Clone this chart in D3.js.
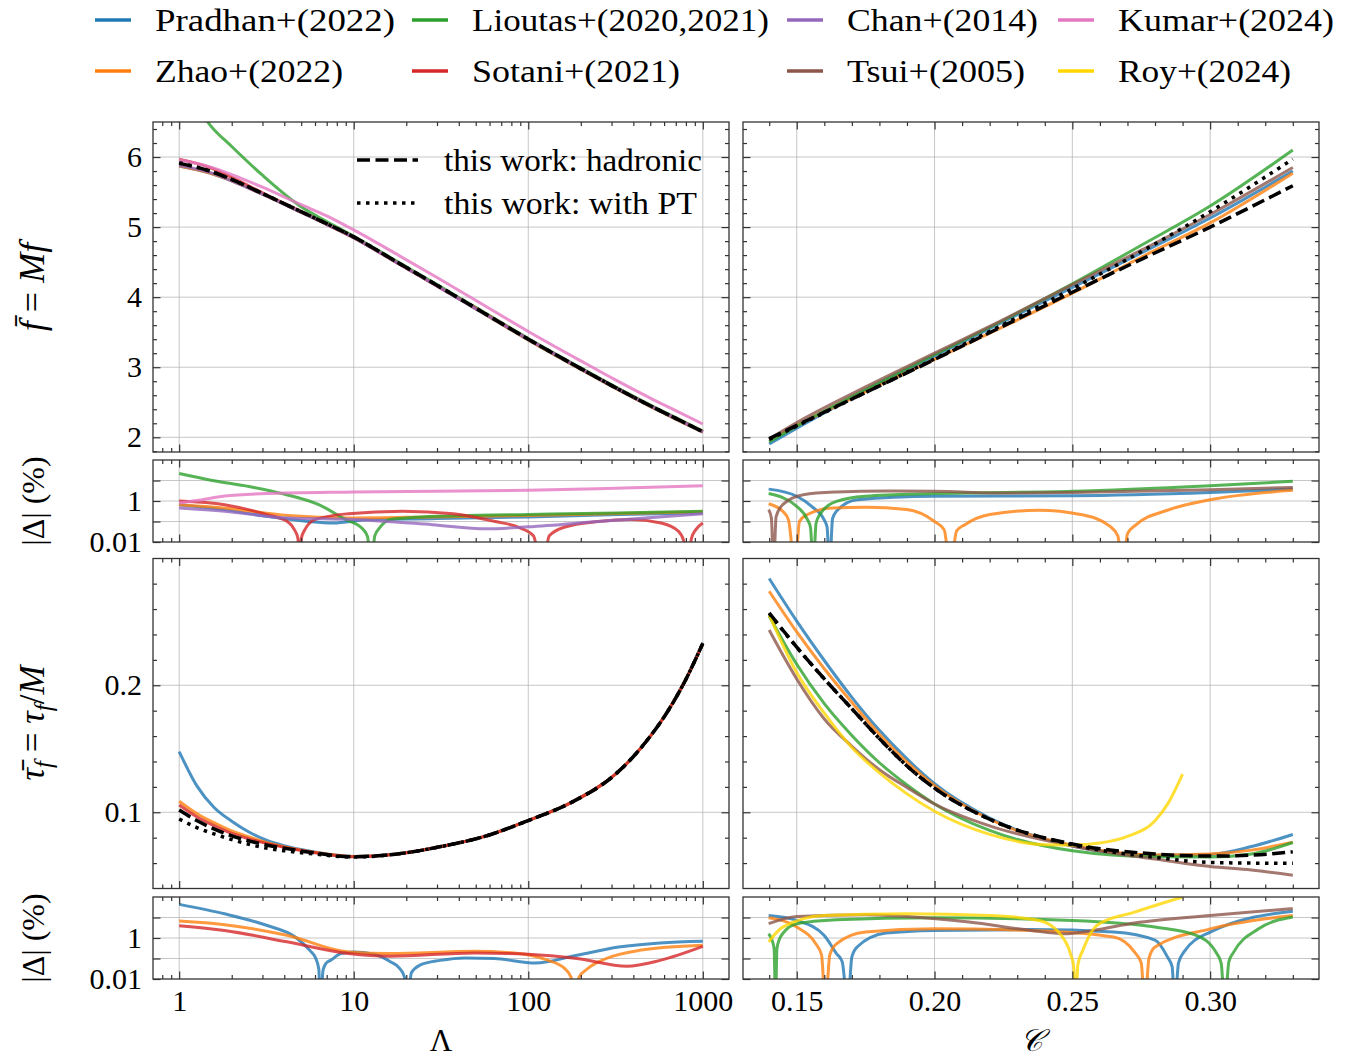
<!DOCTYPE html>
<html>
<head>
<meta charset="utf-8">
<script src="https://cdn.jsdelivr.net/npm/d3@7"></script>
<style>
  body { margin: 0; background: #fff; }
  svg text { font-family: "Liberation Serif", "DejaVu Serif", serif; fill: #000; }
</style>
</head>
<body>
<svg id="fig" width="1349" height="1059"></svg>
<script>
// ---- legend / series
const seriesNames = ["Pradhan+(2022)", "Zhao+(2022)", "Lioutas+(2020,2021)", "Sotani+(2021)",
                     "Chan+(2014)", "Tsui+(2005)", "Kumar+(2024)", "Roy+(2024)"];
const seriesColors = ["#1f77b4", "#ff7f0e", "#2ca02c", "#d62728", "#9467bd", "#8c564b", "#e377c2", "#ffd700"];
const workNames = ["this work: hadronic", "this work: with PT"];

// ---- ticks
const lamTicks = [1, 10, 100, 1000];
const lamTickLabels = ["1", "10", "100", "1000"];
const cTicks = [0.15, 0.20, 0.25, 0.30];
const cTickLabels = ["0.15", "0.20", "0.25", "0.30"];
const fTicks = [2, 3, 4, 5, 6];
const fTickLabels = ["2", "3", "4", "5", "6"];
const tTicks = [0.1, 0.2];
const tTickLabels = ["0.1", "0.2"];
const dTicks = [0.01, 1];
const dTickLabels = ["0.01", "1"];

// ---- f vs Lambda
const fLamGrid = [1, 1.5, 2, 3, 5, 7, 10, 18, 30, 48, 100, 200, 310, 500, 700, 1000];
const fLamHadronic = [5.91, 5.80, 5.68, 5.48, 5.22, 5.05, 4.86, 4.49, 4.17, 3.87, 3.40, 2.98, 2.72, 2.45, 2.27, 2.08];
const fLamPT       = [5.92, 5.80, 5.68, 5.48, 5.22, 5.05, 4.86, 4.49, 4.17, 3.87, 3.40, 2.98, 2.72, 2.45, 2.27, 2.08];
const fLamPradhan  = [5.87, 5.77, 5.66, 5.47, 5.21, 5.04, 4.85, 4.48, 4.16, 3.86, 3.39, 2.97, 2.71, 2.44, 2.26, 2.075];
const fLamZhao     = [5.87, 5.77, 5.66, 5.47, 5.21, 5.04, 4.85, 4.48, 4.16, 3.86, 3.39, 2.97, 2.71, 2.44, 2.26, 2.075];
const fLamLioutas  = [7.20, 6.46, 6.15, 5.74, 5.29, 5.08, 4.87, 4.50, 4.18, 3.88, 3.41, 2.99, 2.73, 2.46, 2.28, 2.09];
const fLamSotani   = [5.97, 5.85, 5.71, 5.49, 5.22, 5.04, 4.85, 4.48, 4.16, 3.87, 3.40, 2.98, 2.72, 2.45, 2.27, 2.08];
const fLamChan     = [5.88, 5.78, 5.66, 5.47, 5.21, 5.04, 4.85, 4.48, 4.16, 3.86, 3.40, 2.98, 2.72, 2.45, 2.27, 2.075];
const fLamKumar    = [5.96, 5.86, 5.75, 5.57, 5.32, 5.16, 4.96, 4.60, 4.28, 3.98, 3.51, 3.09, 2.83, 2.56, 2.38, 2.19];

// |Delta| (%) for f vs Lambda: [Lambda, percent]
const dfLamPradhan = [[1,0.66],[1.8,0.38],[3.16,0.18],[5.5,0.1],[7.6,0.085],[12.3,0.126],[28,0.138],[100,0.166],[330,0.22],[1000,0.26]];
const dfLamZhao = [[1,0.66],[1.8,0.46],[4.2,0.195],[9.3,0.148],[28,0.166],[100,0.195],[1000,0.295]];
const dfLamLioutas = [[1,22],[1.58,9.8],[2.51,5.1],[3.98,2.2],[6.31,0.66],[8.91,0.13],[11.2,0.045],[12.0,0.018],[12.6,0.0005],[13.2,0.02],[14.1,0.05],[16.2,0.125],[22.4,0.16],[40,0.19],[100,0.22],[316,0.26],[1000,0.32]];
const dfLamSotani = [[1,1.0],[1.82,0.66],[3.16,0.22],[4.17,0.1],[4.57,0.04],[4.79,0.015],[4.9,0.0005],[5.01,0.015],[5.25,0.04],[6.03,0.126],[9.33,0.24],[19.1,0.32],[37.2,0.24],[64.6,0.1],[89,0.05],[107,0.02],[120,0.0005],[132,0.02],[162,0.054],[251,0.1],[389,0.126],[575,0.085],[724,0.034],[776,0.012],[813,0.0005],[861,0.015],[912,0.04],[1000,0.085]];
const dfLamChan = [[1,0.46],[1.82,0.32],[4.17,0.148],[10,0.126],[28.2,0.07],[57.5,0.044],[100,0.055],[251,0.1],[1000,0.24]];
const dfLamKumar = [[1,0.79],[1.26,1.05],[1.82,1.75],[3.16,2.3],[10,2.75],[100,3.3],[316,4.2],[1000,5.5]];

// ---- tau vs Lambda
const tLamGrid = [1, 1.26, 1.58, 2, 2.51, 3.16, 3.98, 5.62, 10, 17.8, 31.6, 56.2, 100, 178, 316, 398, 501, 631, 794, 1000];
const tLamHadronic = [0.1018, 0.0935, 0.087, 0.0815, 0.0775, 0.0743, 0.0718, 0.0685, 0.065, 0.0672, 0.073, 0.081, 0.0935, 0.108, 0.130, 0.1435, 0.160, 0.1797, 0.2038, 0.233];
const tLamPT       = [0.0947, 0.088, 0.083, 0.0785, 0.0748, 0.0718, 0.0698, 0.0675, 0.0648, 0.0672, 0.073, 0.081, 0.0935, 0.108, 0.130, 0.1435, 0.160, 0.1797, 0.2038, 0.233];
const tLamPradhan  = [0.1478, 0.121, 0.104, 0.093, 0.0845, 0.078, 0.0737, 0.0693, 0.0652, 0.0672, 0.073, 0.081, 0.0935, 0.108, 0.130, 0.1435, 0.160, 0.1797, 0.2038, 0.2335];
const tLamZhao     = [0.1087, 0.099, 0.0918, 0.0853, 0.0806, 0.0762, 0.0728, 0.069, 0.0652, 0.0672, 0.073, 0.081, 0.0935, 0.108, 0.130, 0.1435, 0.160, 0.1797, 0.2038, 0.233];
const tLamSotani   = [0.1058, 0.0965, 0.0895, 0.0834, 0.0791, 0.0755, 0.0725, 0.0688, 0.065, 0.0672, 0.073, 0.081, 0.0935, 0.108, 0.130, 0.1435, 0.160, 0.1797, 0.2038, 0.233];

const dtLamPradhan = [[1,43.6],[1.82,15.1],[3.16,4.17],[4.62,1.12],[5.6,0.25],[6.03,0.11],[6.31,0.03],[6.43,0.0005],[6.68,0.029],[7.0,0.063],[7.36,0.081],[8.43,0.174],[10,0.209],[13.1,0.162],[16.3,0.068],[18.2,0.035],[19.5,0.013],[20.2,0.0005],[21.4,0.02],[23.9,0.047],[31.3,0.081],[43.6,0.107],[63.8,0.1],[110,0.06],[190,0.145],[330,0.363],[569,0.575],[1000,0.69]];
const dtLamZhao = [[1,6.76],[1.82,4.47],[4.14,1.35],[9.33,0.209],[16.2,0.174],[49,0.224],[83,0.186],[130,0.081],[162,0.032],[176,0.012],[185,0.0005],[195,0.012],[219,0.032],[280,0.1],[434,0.25],[1000,0.44]];
const dtLamSotani = [[1,3.98],[1.82,2.34],[4.14,0.65],[9.33,0.174],[16.2,0.129],[49,0.186],[100,0.162],[190,0.1],[367,0.042],[569,0.081],[1000,0.39]];

// ---- f vs compactness
const fCGrid = [0.14, 0.15, 0.175, 0.20, 0.225, 0.25, 0.275, 0.30, 0.33];
const fCHadronic = [1.98, 2.17, 2.64, 3.11, 3.59, 4.07, 4.54, 5.00, 5.59];
const fCPT       = [1.97, 2.16, 2.64, 3.12, 3.61, 4.12, 4.65, 5.22, 5.97];
const fCPradhan  = [1.905, 2.13, 2.67, 3.16, 3.65, 4.14, 4.63, 5.13, 5.80];
const fCZhao     = [1.965, 2.17, 2.653, 3.113, 3.578, 4.057, 4.57, 5.06, 5.77];
const fCLioutas  = [1.935, 2.16, 2.685, 3.18, 3.67, 4.19, 4.74, 5.30, 6.10];
const fCTsui     = [1.975, 2.21, 2.72, 3.20, 3.68, 4.18, 4.67, 5.18, 5.85];

const dfCPradhan = [[0.1398,3.8],[0.15,1.7],[0.1554,0.55],[0.1599,0.123],[0.161,0.055],[0.1619,0.0005],[0.163,0.14],[0.1644,0.316],[0.172,1.15],[0.20,1.7],[0.25,1.82],[0.30,2.63],[0.33,3.8]];
const dfCZhao = [[0.1398,0.74],[0.1449,0.316],[0.147,0.12],[0.1494,0.0005],[0.151,0.1],[0.1539,0.22],[0.1629,0.46],[0.1749,0.49],[0.1899,0.38],[0.20,0.1],[0.2035,0.04],[0.2057,0.0005],[0.208,0.035],[0.211,0.07],[0.22,0.22],[0.238,0.355],[0.253,0.22],[0.2636,0.059],[0.2665,0.02],[0.2683,0.0005],[0.270,0.025],[0.2732,0.07],[0.2845,0.355],[0.30,1.15],[0.33,3.3]];
const dfCLioutas = [[0.1398,2.3],[0.15,0.55],[0.1539,0.123],[0.155,0.05],[0.156,0.0005],[0.157,0.08],[0.1584,0.22],[0.1644,0.95],[0.1749,1.7],[0.20,2.3],[0.25,2.95],[0.30,5.6],[0.33,9.1]];
const dfCTsui = [[0.1398,0.38],[0.1408,0.15],[0.1416,0.0005],[0.1425,0.17],[0.1449,0.66],[0.1524,2.04],[0.1644,2.75],[0.1824,3.1],[0.20,2.95],[0.2274,2.45],[0.25,2.6],[0.30,3.55],[0.33,4.6]];

// ---- tau vs compactness
const tCGrid = [0.14, 0.15, 0.16, 0.17, 0.18, 0.19, 0.20, 0.22, 0.25, 0.28, 0.30, 0.315, 0.33];
const tCHadronic = [0.257, 0.230, 0.205, 0.1815, 0.158, 0.1365, 0.119, 0.0945, 0.075, 0.0672, 0.0655, 0.0662, 0.069];
const tCPT       = [0.2565, 0.230, 0.205, 0.1815, 0.158, 0.1365, 0.119, 0.0945, 0.0745, 0.0645, 0.0605, 0.060, 0.0598];
const tCPradhan  = [0.284, 0.2505, 0.2195, 0.1905, 0.1645, 0.142, 0.1225, 0.0955, 0.0735, 0.0662, 0.0668, 0.073, 0.0825];
const tCZhao     = [0.274, 0.242, 0.213, 0.1865, 0.1615, 0.1395, 0.121, 0.0945, 0.074, 0.0664, 0.0672, 0.0702, 0.0765];
const tCLioutas  = [0.2545, 0.2165, 0.1855, 0.1605, 0.139, 0.1215, 0.1066, 0.0857, 0.0697, 0.065, 0.0648, 0.0672, 0.0762];
const tCTsui     = [0.2435, 0.205, 0.1735, 0.152, 0.1335, 0.1195, 0.1065, 0.0893, 0.0735, 0.0632, 0.0573, 0.0545, 0.0505];
const tCRoyGrid  = [0.14, 0.15, 0.16, 0.17, 0.18, 0.19, 0.20, 0.22, 0.24, 0.25, 0.26, 0.27, 0.28, 0.285, 0.29];
const tCRoy      = [0.2555, 0.210, 0.178, 0.151, 0.131, 0.1145, 0.1008, 0.0826, 0.0745, 0.0742, 0.0758, 0.081, 0.0934, 0.108, 0.130];

const dtCPradhan = [[0.1398,12.6],[0.15,7.2],[0.1599,1.35],[0.1644,0.174],[0.1665,0.07],[0.1685,0.0005],[0.170,0.12],[0.1719,0.363],[0.1824,1.74],[0.20,2.34],[0.235,2.57],[0.265,1.95],[0.28,0.78],[0.2845,0.12],[0.2862,0.04],[0.2872,0.0005],[0.2885,0.06],[0.2905,0.21],[0.30,1.95],[0.33,20.4]];
const dtCZhao = [[0.1398,9.8],[0.15,3.4],[0.1569,0.52],[0.159,0.15],[0.1604,0.0005],[0.162,0.15],[0.1644,0.52],[0.1749,1.95],[0.20,2.8],[0.235,2.34],[0.265,1.12],[0.2725,0.21],[0.275,0.06],[0.2763,0.0005],[0.2778,0.1],[0.28,0.363],[0.30,2.8],[0.33,12.6]];
const dtCLioutas = [[0.1398,1.62],[0.141,0.8],[0.1418,0.3],[0.1423,0.0005],[0.1428,0.3],[0.1436,0.8],[0.1449,1.62],[0.15,5.0],[0.1644,7.8],[0.20,9.8],[0.25,7.2],[0.28,3.4],[0.295,1.35],[0.3024,0.174],[0.304,0.06],[0.3053,0.0005],[0.3068,0.07],[0.3086,0.21],[0.3176,2.8],[0.33,10.5]];
const dtCTsui = [[0.1398,5],[0.15,11.2],[0.1749,13.5],[0.19,11.2],[0.2125,6],[0.235,2.34],[0.247,1.62],[0.2575,2.34],[0.2725,5.4],[0.30,12.6],[0.33,27]];
const dtCRoy = [[0.1398,0.65],[0.1449,3.4],[0.1599,12.6],[0.19,15.1],[0.22,12.6],[0.238,7.2],[0.2455,1.62],[0.2493,0.174],[0.2505,0.04],[0.2512,0.0005],[0.252,0.05],[0.2538,0.25],[0.259,4.2],[0.2725,18.2],[0.29,100]];

// ---------------------------------------------------------------
const svg = d3.select("#fig");
const FONT = '"Liberation Serif", "DejaVu Serif", serif';

const leftX = 153, rightX = 743, panelW = 576;
const rows = [
  { top: 122, h: 330 },
  { top: 460, h: 82 },
  { top: 558.5, h: 330 },
  { top: 897, h: 82 }
];
// rendered widths of legend labels (Computer Modern is wider than Times)
const legendTextWidth = [240, 188, 297, 208, 191, 178, 216, 173];
const workTextWidth = [258, 253];

const xLam = d3.scaleLog().domain([Math.pow(10, -0.15), Math.pow(10, 3.15)]).range([leftX, leftX + panelW]);
const xC = d3.scaleLinear().domain([0.1305, 0.3395]).range([rightX, rightX + panelW]);
const yF = d3.scaleLinear().domain([1.79, 6.5]).range([rows[0].top + rows[0].h, rows[0].top]);
const yDf = d3.scaleLog().domain([0.01, 100]).range([rows[1].top + rows[1].h, rows[1].top]);
const yT = d3.scaleLinear().domain([0.04, 0.2998]).range([rows[2].top + rows[2].h, rows[2].top]);
const yDt = d3.scaleLog().domain([0.01, 100]).range([rows[3].top + rows[3].h, rows[3].top]);

const lamMinor = [];
[0.1, 1, 10, 100].forEach(d => { for (let k = 2; k <= 9; k++) { const v = d * k; if (v > xLam.domain()[0] && v < xLam.domain()[1]) lamMinor.push(v); } });
const cMinor = d3.range(14, 34).filter(v => v % 5 !== 0).map(v => v / 100);
const fMinor = d3.range(9, 33).filter(v => v % 5 !== 0).map(v => v / 5);
const tMinor = [0.06, 0.08, 0.12, 0.14, 0.16, 0.18, 0.22, 0.24, 0.26, 0.28];
const dMinor = [0.1, 10];

const zip = (grid, vals) => grid.map((g, i) => [g, vals[i]]);
const col = name => seriesColors[seriesNames.indexOf(name)];
const S = (name, pts) => ({ pts, color: col(name), width: 3, opacity: 0.8 });
const hadronic = pts => ({ pts, color: "#000", width: 3.5, dash: "13,5.5", opacity: 1 });
const withPT = pts => ({ pts, color: "#000", width: 3.5, dash: "3.5,5.5", opacity: 1 });

const panels = [
  { x: xLam, y: yF, row: 0, xMaj: lamTicks, xMin: lamMinor, yMaj: fTicks, yMin: fMinor, yLab: fTickLabels,
    series: [S("Pradhan+(2022)", zip(fLamGrid, fLamPradhan)), S("Zhao+(2022)", zip(fLamGrid, fLamZhao)),
             S("Lioutas+(2020,2021)", zip(fLamGrid, fLamLioutas)), S("Sotani+(2021)", zip(fLamGrid, fLamSotani)),
             S("Chan+(2014)", zip(fLamGrid, fLamChan)), S("Kumar+(2024)", zip(fLamGrid, fLamKumar)),
             hadronic(zip(fLamGrid, fLamHadronic)), withPT(zip(fLamGrid, fLamPT))] },
  { x: xC, y: yF, row: 0, xMaj: cTicks, xMin: cMinor, yMaj: fTicks, yMin: fMinor,
    series: [S("Pradhan+(2022)", zip(fCGrid, fCPradhan)), S("Zhao+(2022)", zip(fCGrid, fCZhao)),
             S("Lioutas+(2020,2021)", zip(fCGrid, fCLioutas)), S("Tsui+(2005)", zip(fCGrid, fCTsui)),
             hadronic(zip(fCGrid, fCHadronic)), withPT(zip(fCGrid, fCPT))] },
  { x: xLam, y: yDf, row: 1, xMaj: lamTicks, xMin: lamMinor, yMaj: dTicks, yMin: dMinor, yLab: dTickLabels, logy: true,
    series: [S("Pradhan+(2022)", dfLamPradhan), S("Zhao+(2022)", dfLamZhao), S("Lioutas+(2020,2021)", dfLamLioutas),
             S("Sotani+(2021)", dfLamSotani), S("Chan+(2014)", dfLamChan), S("Kumar+(2024)", dfLamKumar)] },
  { x: xC, y: yDf, row: 1, xMaj: cTicks, xMin: cMinor, yMaj: dTicks, yMin: dMinor, logy: true,
    series: [S("Pradhan+(2022)", dfCPradhan), S("Zhao+(2022)", dfCZhao), S("Lioutas+(2020,2021)", dfCLioutas),
             S("Tsui+(2005)", dfCTsui)] },
  { x: xLam, y: yT, row: 2, xMaj: lamTicks, xMin: lamMinor, yMaj: tTicks, yMin: tMinor, yLab: tTickLabels,
    series: [S("Pradhan+(2022)", zip(tLamGrid, tLamPradhan)), S("Zhao+(2022)", zip(tLamGrid, tLamZhao)),
             S("Sotani+(2021)", zip(tLamGrid, tLamSotani)),
             hadronic(zip(tLamGrid, tLamHadronic)), withPT(zip(tLamGrid, tLamPT))] },
  { x: xC, y: yT, row: 2, xMaj: cTicks, xMin: cMinor, yMaj: tTicks, yMin: tMinor,
    series: [S("Pradhan+(2022)", zip(tCGrid, tCPradhan)), S("Zhao+(2022)", zip(tCGrid, tCZhao)),
             S("Lioutas+(2020,2021)", zip(tCGrid, tCLioutas)), S("Tsui+(2005)", zip(tCGrid, tCTsui)),
             S("Roy+(2024)", zip(tCRoyGrid, tCRoy)),
             hadronic(zip(tCGrid, tCHadronic)), withPT(zip(tCGrid, tCPT))] },
  { x: xLam, y: yDt, row: 3, xMaj: lamTicks, xMin: lamMinor, yMaj: dTicks, yMin: dMinor, yLab: dTickLabels, logy: true,
    xLab: lamTickLabels,
    series: [S("Pradhan+(2022)", dtLamPradhan), S("Zhao+(2022)", dtLamZhao), S("Sotani+(2021)", dtLamSotani)] },
  { x: xC, y: yDt, row: 3, xMaj: cTicks, xMin: cMinor, yMaj: dTicks, yMin: dMinor, logy: true, xLab: cTickLabels,
    series: [S("Pradhan+(2022)", dtCPradhan), S("Zhao+(2022)", dtCZhao), S("Lioutas+(2020,2021)", dtCLioutas),
             S("Tsui+(2005)", dtCTsui), S("Roy+(2024)", dtCRoy)] }
];

function styleAxis(a) {
  a.select(".domain").remove();
  a.attr("font-family", FONT).attr("font-size", 30);
  a.selectAll(".tick line").attr("stroke", "#333").attr("stroke-width", 1.2);
  a.selectAll(".tick text").attr("fill", "#000");
}

panels.forEach((p, pi) => {
  const [x0, x1] = p.x.range();
  const top = rows[p.row].top, h = rows[p.row].h, bot = top + h;
  const g = svg.append("g");

  // grid
  const gridY = p.logy ? [0.1, 1, 10] : p.yMaj;
  g.selectAll(".gx").data(p.xMaj).join("line")
    .attr("x1", d => p.x(d)).attr("x2", d => p.x(d)).attr("y1", top).attr("y2", bot)
    .attr("stroke", "#b0b0b0").attr("stroke-width", 1).attr("opacity", 0.7);
  g.selectAll(".gy").data(gridY).join("line")
    .attr("y1", d => p.y(d)).attr("y2", d => p.y(d)).attr("x1", x0).attr("x2", x1)
    .attr("stroke", "#b0b0b0").attr("stroke-width", 1).attr("opacity", 0.7);

  // clip
  const cid = "clip" + pi;
  svg.append("clipPath").attr("id", cid).append("rect")
    .attr("x", x0).attr("y", top).attr("width", x1 - x0).attr("height", h);

  const line = d3.line().x(d => p.x(d[0])).y(d => p.y(d[1])).curve(d3.curveMonotoneX);
  const lg = g.append("g").attr("clip-path", `url(#${cid})`);
  p.series.forEach(s => {
    lg.append("path").attr("d", line(s.pts)).attr("fill", "none")
      .attr("stroke", s.color).attr("stroke-width", s.width).attr("stroke-opacity", s.opacity)
      .attr("stroke-dasharray", s.dash || null).attr("stroke-linejoin", "round");
  });

  // ticks (inward, all sides)
  const bottomMaj = d3.axisBottom(p.x).tickValues(p.xMaj).tickSize(-7.5).tickPadding(11)
    .tickFormat((d, i) => p.xLab ? p.xLab[i] : "");
  styleAxis(g.append("g").attr("transform", `translate(0,${bot})`).call(bottomMaj));
  styleAxis(g.append("g").attr("transform", `translate(0,${bot})`)
    .call(d3.axisBottom(p.x).tickValues(p.xMin).tickSize(-4).tickFormat(() => "")));
  styleAxis(g.append("g").attr("transform", `translate(0,${top})`)
    .call(d3.axisTop(p.x).tickValues(p.xMaj).tickSize(-7.5).tickFormat(() => "")));
  styleAxis(g.append("g").attr("transform", `translate(0,${top})`)
    .call(d3.axisTop(p.x).tickValues(p.xMin).tickSize(-4).tickFormat(() => "")));

  const minorLen = p.logy ? -7.5 : -4;
  const leftMaj = d3.axisLeft(p.y).tickValues(p.yMaj).tickSize(-7.5).tickPadding(11)
    .tickFormat((d, i) => p.yLab ? p.yLab[i] : "");
  styleAxis(g.append("g").attr("transform", `translate(${x0},0)`).call(leftMaj));
  styleAxis(g.append("g").attr("transform", `translate(${x0},0)`)
    .call(d3.axisLeft(p.y).tickValues(p.yMin).tickSize(minorLen).tickFormat(() => "")));
  styleAxis(g.append("g").attr("transform", `translate(${x1},0)`)
    .call(d3.axisRight(p.y).tickValues(p.yMaj).tickSize(-7.5).tickFormat(() => "")));
  styleAxis(g.append("g").attr("transform", `translate(${x1},0)`)
    .call(d3.axisRight(p.y).tickValues(p.yMin).tickSize(minorLen).tickFormat(() => "")));

  // spine
  g.append("rect").attr("x", x0).attr("y", top).attr("width", x1 - x0).attr("height", h)
    .attr("fill", "none").attr("stroke", "#333").attr("stroke-width", 1.3);
});

// ---- top legend (column-major, 2 rows)
const legCols = [95, 412, 787, 1058];
const legRows = [20, 71];
seriesNames.forEach((name, i) => {
  const cx = legCols[Math.floor(i / 2)], cy = legRows[i % 2];
  svg.append("line").attr("x1", cx).attr("x2", cx + 36).attr("y1", cy).attr("y2", cy)
    .attr("stroke", seriesColors[i]).attr("stroke-width", 3.5);
  svg.append("text").attr("x", cx + 60).attr("y", cy).attr("dy", "0.34em")
    .attr("font-size", 32).attr("textLength", legendTextWidth[i]).attr("lengthAdjust", "spacingAndGlyphs")
    .text(name);
});

// ---- "this work" legend inside the first panel
const workDash = ["13,5.5", "3.5,5.5"];
const workY = [160, 203];
workNames.forEach((name, i) => {
  svg.append("line").attr("x1", 357).attr("x2", 418).attr("y1", workY[i]).attr("y2", workY[i])
    .attr("stroke", "#000").attr("stroke-width", 3.5).attr("stroke-dasharray", workDash[i]);
  svg.append("text").attr("x", 444).attr("y", workY[i]).attr("dy", "0.34em")
    .attr("font-size", 31).attr("textLength", workTextWidth[i]).attr("lengthAdjust", "spacingAndGlyphs")
    .text(name);
});

// ---- axis titles
function yTitle(cy, size, build) {
  const t = svg.append("text").attr("transform", `translate(44,${cy}) rotate(-90)`)
    .attr("text-anchor", "middle").attr("font-size", size);
  build(t);
}
yTitle(287, 36, t => {
  t.append("tspan").attr("font-style", "italic").text("f\u0304");
  t.append("tspan").text(" = ");
  t.append("tspan").attr("font-style", "italic").text("Mf");
});
yTitle(501, 32, t => { t.append("tspan").text("|\u0394| (%)"); });
yTitle(723, 35, t => {
  t.append("tspan").attr("font-style", "italic").text("\u03C4\u0304");
  t.append("tspan").attr("font-style", "italic").attr("font-size", 25).attr("dy", 8).text("f");
  t.append("tspan").attr("dy", -8).text(" = ");
  t.append("tspan").attr("font-style", "italic").text("\u03C4");
  t.append("tspan").attr("font-style", "italic").attr("font-size", 25).attr("dy", 8).text("f");
  t.append("tspan").attr("dy", -8).text("/");
  t.append("tspan").attr("font-style", "italic").text("M");
});
yTitle(938, 32, t => { t.append("tspan").text("|\u0394| (%)"); });

svg.append("text").attr("x", leftX + panelW / 2).attr("y", 1051)
  .attr("text-anchor", "middle").attr("font-size", 31).text("\u039B");
svg.append("text").attr("x", rightX + panelW / 2).attr("y", 1051)
  .attr("text-anchor", "middle").attr("font-size", 31).attr("font-style", "italic").text("\uD835\uDC9E");
</script>
</body>
</html>
